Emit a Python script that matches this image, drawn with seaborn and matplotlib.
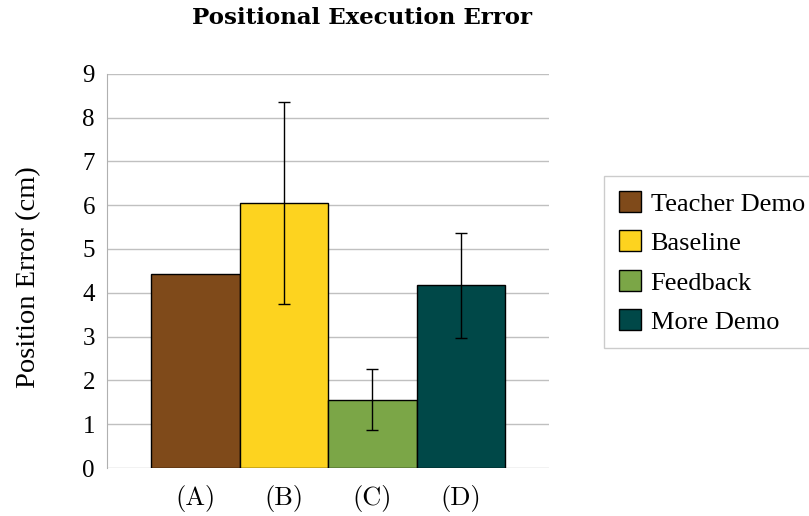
import matplotlib.pyplot as plt
import seaborn as sns
import pandas as pd
from matplotlib.patches import Patch

# Values
conditions = ["Teacher Demo", "Baseline", "Feedback", "More Demo"]
tick_labels = ["(A)", "(B)", "(C)", "(D)"]
errors_mean = [4.43, 6.05, 1.56, 4.17]
errors_sd = [None, 2.31, 0.69, 1.20]
colors = ["#7f4a1a", "#fdd31f", "#7ba647", "#004848"]

df = pd.DataFrame({"condition": conditions, "error": errors_mean})

sns.set_style("white")
plt.rcParams['font.family'] = ['Liberation Serif', 'DejaVu Serif']
plt.rcParams.update({"text.color": "black", "axes.labelcolor": "black",
                     "xtick.color": "black", "ytick.color": "black"})

fig = plt.figure(figsize=(8.09, 5.16), dpi=100)
ax = fig.add_axes([0.132, 0.093, 0.547, 0.764])

sns.barplot(data=df, x="condition", y="error", hue="condition",
            palette=colors, saturation=1, width=1.0, edgecolor="black",
            linewidth=1, legend=False, ax=ax, zorder=3)

# error bars only where there is a spread (teacher demo has none)
for i, (m, s) in enumerate(zip(errors_mean, errors_sd)):
    if s is not None:
        ax.errorbar(i, m, yerr=s, color="black", capsize=4, lw=1,
                    capthick=1, zorder=4)

ax.set_xlim(-1, 4)
ax.set_ylim(0, 9)
ax.set_yticks(range(0, 10))
ax.set_xticks(range(4))
ax.set_xticklabels(tick_labels, fontfamily="cmr10", fontsize=19)
ax.tick_params(axis="y", labelsize=18, length=6.5, color="#b0b0b0",
               labelcolor="black", width=1, pad=2)
ax.tick_params(axis="x", length=0, pad=12, labelcolor="black")
ax.yaxis.grid(True, color="#c0c0c0", lw=1, zorder=0)
ax.set_axisbelow(True)
for side in ["top", "right", "bottom"]:
    ax.spines[side].set_visible(False)
ax.spines["left"].set_color("#b0b0b0")
ax.set_xlabel("")
ax.set_ylabel("Position Error (cm)", fontsize=20.5, va="center")
ax.yaxis.set_label_coords(-0.176, 0.485)

fig.suptitle("Positional Execution Error", x=0.448, y=0.965, va="center",
             fontsize=16.5, fontfamily="DejaVu Serif", fontweight="bold")

handles = [Patch(facecolor=c, edgecolor="black", lw=1) for c in colors]
leg = fig.legend(handles, conditions, loc="upper left",
                 bbox_to_anchor=(0.747, 0.658), fontsize=19,
                 frameon=True, fancybox=False, edgecolor="#c0c0c0",
                 handlelength=0.85, handleheight=0.85, handletextpad=0.35,
                 labelspacing=0.56, borderpad=0.55, borderaxespad=0)
leg.get_frame().set_linewidth(1)

fig.savefig("out.png", dpi=100)
